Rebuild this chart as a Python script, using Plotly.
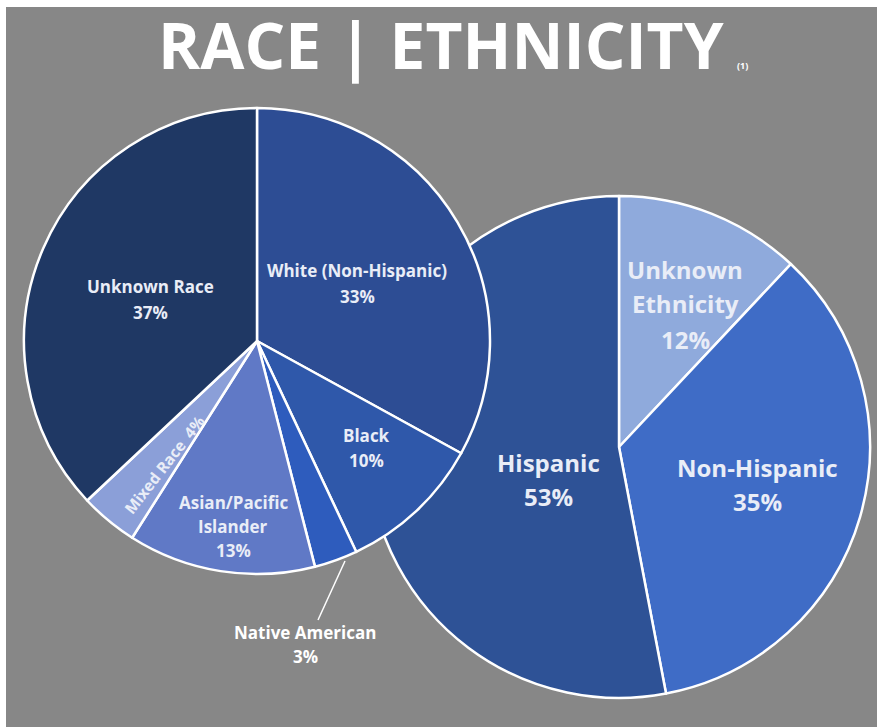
import plotly.graph_objects as go

W, H = 877, 727

# ---- data ----
race_labels = ["White (Non-Hispanic)", "Black", "Native American",
               "Asian/Pacific Islander", "Mixed Race", "Unknown Race"]
race_values = [33, 10, 3, 13, 4, 37]
race_colors = ["#2d4d94", "#2f58aa", "#2e5cbd", "#6079c6", "#8b9fd8", "#1f3864"]

eth_labels = ["Unknown Ethnicity", "Non-Hispanic", "Hispanic"]
eth_values = [12, 35, 53]
eth_colors = ["#8faadc", "#3f6cc6", "#2e5296"]

title_text = "RACE | ETHNICITY"
title_note = "(1)"


def px(x):
    return x / W


def py(y):
    return 1 - y / H


fig = go.Figure()

# ethnicity pie (drawn first, sits underneath)
cx2, cy2, r2 = 619, 447, 251
fig.add_trace(go.Pie(
    labels=eth_labels, values=eth_values, sort=False, direction="clockwise",
    rotation=0, marker=dict(colors=eth_colors, line=dict(color="white", width=2.5)),
    textinfo="none", hoverinfo="label+percent", showlegend=False,
    domain=dict(x=[px(cx2 - r2), px(cx2 + r2)], y=[py(cy2 + r2), py(cy2 - r2)]),
))

# race pie (on top)
cx1, cy1, r1 = 257, 341, 233
fig.add_trace(go.Pie(
    labels=race_labels, values=race_values, sort=False, direction="clockwise",
    rotation=0, marker=dict(colors=race_colors, line=dict(color="white", width=2.5)),
    textinfo="none", hoverinfo="label+percent", showlegend=False,
    domain=dict(x=[px(cx1 - r1), px(cx1 + r1)], y=[py(cy1 + r1), py(cy1 - r1)]),
))

FONT = "Open Sans"
LBL = "#e9edf7"
annotations = []


def add_label(lines, x, y0, step, size, color=LBL):
    for i, t in enumerate(lines):
        annotations.append(dict(
            x=px(x), y=py(y0 + i * step), xref="paper", yref="paper",
            text="<b>%s</b>" % t, showarrow=False,
            font=dict(family=FONT, size=size, color=color),
            xanchor="center", yanchor="middle"))


def pct(v):
    return "%d%%" % v


# race labels
add_label([race_labels[5], pct(race_values[5])], 150, 286, 26, 17)
add_label([race_labels[0], pct(race_values[0])], 357, 270, 26, 17)
add_label([race_labels[1], pct(race_values[1])], 366, 435, 26, 17)
add_label(["Asian/Pacific", "Islander", pct(race_values[3])], 233, 502, 24, 17)
add_label([race_labels[2], pct(race_values[2])], 305, 632, 24, 17, "white")
annotations.append(dict(
    x=px(164), y=py(465), xref="paper", yref="paper",
    text="<b>%s  %s</b>" % (race_labels[4], pct(race_values[4])), showarrow=False,
    textangle=-52, font=dict(family=FONT, size=15.5, color=LBL),
    xanchor="center", yanchor="middle"))

# ethnicity labels
add_label(["Unknown", "Ethnicity", pct(eth_values[0])], 685, 269, 35, 24)
add_label([eth_labels[1], pct(eth_values[1])], 757, 467, 34, 24)
add_label([eth_labels[2], pct(eth_values[2])], 548, 462, 35, 24)

# title
annotations.append(dict(
    x=px(441), y=py(44), xref="paper", yref="paper",
    text="<b>%s</b>" % title_text, showarrow=False,
    font=dict(family="Open Sans", size=64, color="white"),
    xanchor="center", yanchor="middle"))
annotations.append(dict(
    x=px(742), y=py(65), xref="paper", yref="paper",
    text="<b>%s</b>" % title_note, showarrow=False,
    font=dict(family="Open Sans", size=9, color="white"),
    xanchor="center", yanchor="middle"))

shapes = [
    dict(type="rect", xref="paper", yref="paper", x0=0, x1=px(6), y0=0, y1=1,
         fillcolor="white", line=dict(width=0), layer="below"),
    dict(type="rect", xref="paper", yref="paper", x0=0, x1=1, y0=py(7), y1=1,
         fillcolor="white", line=dict(width=0), layer="below"),
    dict(type="line", xref="paper", yref="paper", x0=px(345), y0=py(561),
         x1=px(318), y1=py(620), line=dict(color="white", width=1.5)),
]

fig.update_layout(
    width=W, height=H, margin=dict(l=0, r=0, t=0, b=0),
    paper_bgcolor="#878787", plot_bgcolor="#878787",
    annotations=annotations, shapes=shapes,
)

fig.write_html("out.html")
